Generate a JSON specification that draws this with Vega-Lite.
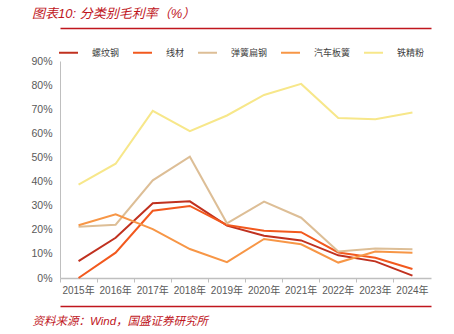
{
  "$schema": "https://vega.github.io/schema/vega-lite/v6.json",
  "width": 371,
  "height": 217,
  "autosize": {"type": "none"},
  "padding": {"left": 60, "top": 61, "right": 23, "bottom": 56},
  "background": "white",
  "config": {
    "view": {"stroke": null},
    "font": "Liberation Sans, Noto Sans CJK SC",
    "axis": {"labelFont": "Liberation Sans, Noto Sans CJK SC", "labelColor": "#595959"}
  },
  "title": {
    "text": "图表10:  分类别毛利率（%）",
    "anchor": "start",
    "frame": "group",
    "dx": -28,
    "offset": 7,
    "fontSize": 13,
    "fontStyle": "italic",
    "fontWeight": "normal",
    "color": "#C0161D",
    "font": "Liberation Sans, Noto Sans CJK SC"
  },
  "data": {
    "values": [
      {"year": "2015年", "series": "螺纹钢", "value": 0.07},
      {"year": "2016年", "series": "螺纹钢", "value": 0.167},
      {"year": "2017年", "series": "螺纹钢", "value": 0.31},
      {"year": "2018年", "series": "螺纹钢", "value": 0.318},
      {"year": "2019年", "series": "螺纹钢", "value": 0.217},
      {"year": "2020年", "series": "螺纹钢", "value": 0.175},
      {"year": "2021年", "series": "螺纹钢", "value": 0.156},
      {"year": "2022年", "series": "螺纹钢", "value": 0.094},
      {"year": "2023年", "series": "螺纹钢", "value": 0.069},
      {"year": "2024年", "series": "螺纹钢", "value": 0.01},
      {"year": "2015年", "series": "线材", "value": 0.0},
      {"year": "2016年", "series": "线材", "value": 0.105},
      {"year": "2017年", "series": "线材", "value": 0.279},
      {"year": "2018年", "series": "线材", "value": 0.299},
      {"year": "2019年", "series": "线材", "value": 0.22},
      {"year": "2020年", "series": "线材", "value": 0.196},
      {"year": "2021年", "series": "线材", "value": 0.19},
      {"year": "2022年", "series": "线材", "value": 0.106},
      {"year": "2023年", "series": "线材", "value": 0.084},
      {"year": "2024年", "series": "线材", "value": 0.037},
      {"year": "2015年", "series": "弹簧扁钢", "value": 0.213},
      {"year": "2016年", "series": "弹簧扁钢", "value": 0.221},
      {"year": "2017年", "series": "弹簧扁钢", "value": 0.405},
      {"year": "2018年", "series": "弹簧扁钢", "value": 0.503},
      {"year": "2019年", "series": "弹簧扁钢", "value": 0.227},
      {"year": "2020年", "series": "弹簧扁钢", "value": 0.317},
      {"year": "2021年", "series": "弹簧扁钢", "value": 0.25},
      {"year": "2022年", "series": "弹簧扁钢", "value": 0.11},
      {"year": "2023年", "series": "弹簧扁钢", "value": 0.122},
      {"year": "2024年", "series": "弹簧扁钢", "value": 0.119},
      {"year": "2015年", "series": "汽车板簧", "value": 0.219},
      {"year": "2016年", "series": "汽车板簧", "value": 0.264},
      {"year": "2017年", "series": "汽车板簧", "value": 0.203},
      {"year": "2018年", "series": "汽车板簧", "value": 0.12},
      {"year": "2019年", "series": "汽车板簧", "value": 0.066},
      {"year": "2020年", "series": "汽车板簧", "value": 0.162},
      {"year": "2021年", "series": "汽车板簧", "value": 0.14},
      {"year": "2022年", "series": "汽车板簧", "value": 0.064},
      {"year": "2023年", "series": "汽车板簧", "value": 0.11},
      {"year": "2024年", "series": "汽车板簧", "value": 0.105},
      {"year": "2015年", "series": "铁精粉", "value": 0.387},
      {"year": "2016年", "series": "铁精粉", "value": 0.474},
      {"year": "2017年", "series": "铁精粉", "value": 0.693},
      {"year": "2018年", "series": "铁精粉", "value": 0.609},
      {"year": "2019年", "series": "铁精粉", "value": 0.674},
      {"year": "2020年", "series": "铁精粉", "value": 0.759},
      {"year": "2021年", "series": "铁精粉", "value": 0.805},
      {"year": "2022年", "series": "铁精粉", "value": 0.664},
      {"year": "2023年", "series": "铁精粉", "value": 0.658},
      {"year": "2024年", "series": "铁精粉", "value": 0.686}
    ]
  },
  "resolve": {"axis": {"x": "independent"}},
  "layer": [
    {
      "mark": {"type": "line", "strokeWidth": 2},
      "encoding": {
        "x": {
          "field": "year",
          "type": "ordinal",
          "scale": {"paddingInner": 0, "paddingOuter": 0},
          "axis": {
            "title": "资料来源：Wind，国盛证券研究所",
            "titleAnchor": "start",
            "titleAlign": "left",
            "titleX": -28,
            "titleY": 46,
            "titleBaseline": "alphabetic",
            "titleColor": "#C0161D",
            "titleFontStyle": "italic",
            "titleFontWeight": "normal",
            "titleFontSize": 11.5,
            "titleFont": "Liberation Sans, Noto Sans CJK SC",
            "labelAngle": 0,
            "labelFontSize": 10,
            "labelPadding": 3,
            "bandPosition": 0,
            "tickSize": 4,
            "tickColor": "#BFBFBF",
            "domainColor": "#BFBFBF",
            "domainWidth": 1.5
          }
        },
        "y": {
          "field": "value",
          "type": "quantitative",
          "scale": {"domain": [0, 0.9]},
          "axis": {
            "title": null,
            "values": [0, 0.1, 0.2, 0.3, 0.4, 0.5, 0.6, 0.7, 0.8, 0.9],
            "format": ".0%",
            "grid": false,
            "ticks": false,
            "labelPadding": 8,
            "labelFontSize": 10.5,
            "domainColor": "#BFBFBF",
            "domainWidth": 1
          }
        },
        "color": {
          "field": "series",
          "type": "nominal",
          "sort": ["螺纹钢", "线材", "弹簧扁钢", "汽车板簧", "铁精粉"],
          "scale": {
            "domain": ["螺纹钢", "线材", "弹簧扁钢", "汽车板簧", "铁精粉"],
            "range": ["#C0311F", "#F2591E", "#DDBE96", "#F79646", "#F7E78A"]
          },
          "legend": {
            "title": null,
            "orient": "none",
            "legendX": -2,
            "legendY": -19,
            "direction": "horizontal",
            "columns": 5,
            "columnPadding": 9,
            "symbolType": "stroke",
            "symbolSize": 360,
            "symbolStrokeWidth": 2,
            "labelOffset": 13,
            "labelFontSize": 9,
            "labelFont": "Noto Sans CJK SC",
            "labelColor": "#404040"
          }
        }
      }
    },
    {
      "mark": {"type": "rule", "opacity": 0},
      "encoding": {
        "x": {
          "field": "year",
          "type": "ordinal",
          "axis": {
            "orient": "top",
            "offset": 33,
            "labels": false,
            "ticks": false,
            "title": null,
            "domainColor": "#C0161D",
            "domainWidth": 1.5
          }
        }
      }
    },
    {
      "mark": {"type": "rule", "opacity": 0},
      "encoding": {
        "x": {
          "field": "year",
          "type": "ordinal",
          "axis": {
            "orient": "bottom",
            "offset": 28,
            "labels": false,
            "ticks": false,
            "title": null,
            "domainColor": "#C0161D",
            "domainWidth": 1.5
          }
        }
      }
    }
  ]
}
